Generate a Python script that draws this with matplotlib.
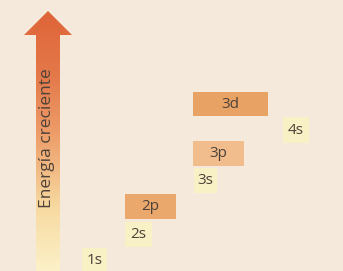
import matplotlib.pyplot as plt
import numpy as np
from matplotlib.path import Path
from matplotlib.patches import PathPatch, Rectangle
from matplotlib.colors import LinearSegmentedColormap

# orbital boxes (pixel units of the original figure, y grows downward)
orbitals = ["1s", "2s", "2p", "3s", "3p", "3d", "4s"]
box_left = [82, 125, 125, 194, 193, 193, 283]
box_top = [248, 222, 194, 168, 141, 92, 117]
box_width = [25, 27, 51, 23, 51, 75, 26]
box_height = [24, 25, 25, 25, 25, 24, 26]
box_color = ["#f8f1c6", "#f8f1c6", "#eaa86c", "#f8f1c6", "#f1bd8c", "#e8a263", "#f8f1c6"]

arrow_label = "Energía creciente"
bg = "#f5e9dc"

fig = plt.figure(figsize=(3.43, 2.71), dpi=100)
fig.patch.set_facecolor(bg)
ax = fig.add_axes([0, 0, 1, 1])
ax.set_xlim(0, 343)
ax.set_ylim(271, 0)
ax.axis("off")

# gradient arrow
verts = [(36, 271), (36, 35), (24, 35), (48, 11), (72, 35), (60, 35), (60, 271), (36, 271)]
codes = [Path.MOVETO] + [Path.LINETO] * 6 + [Path.CLOSEPOLY]
arrow = PathPatch(Path(verts, codes), facecolor="none", edgecolor="none")
ax.add_patch(arrow)
cmap = LinearSegmentedColormap.from_list(
    "energy", ["#df6438", "#e4794a", "#eea26e", "#f7d9a0", "#fcf1c8"])
grad = np.linspace(0, 1, 256).reshape(-1, 1)
im = ax.imshow(grad, extent=[24, 72, 271, 11], cmap=cmap, aspect="auto", zorder=1)
im.set_clip_path(arrow)
ax.text(47, 138, arrow_label, rotation=90, ha="center", va="center",
        fontsize=12.5, color="#4d4239", family="Open Sans", zorder=3)

for name, x, y, w, h, c in zip(orbitals, box_left, box_top, box_width, box_height, box_color):
    ax.add_patch(Rectangle((x, y), w, h, facecolor=c, edgecolor="none", zorder=2))
    ax.text(x + w / 2, y + h / 2, name, ha="center", va="center",
            fontsize=11, color="#4d4239", family="Open Sans", zorder=3)

fig.savefig("out.png", dpi=100, facecolor=bg)
